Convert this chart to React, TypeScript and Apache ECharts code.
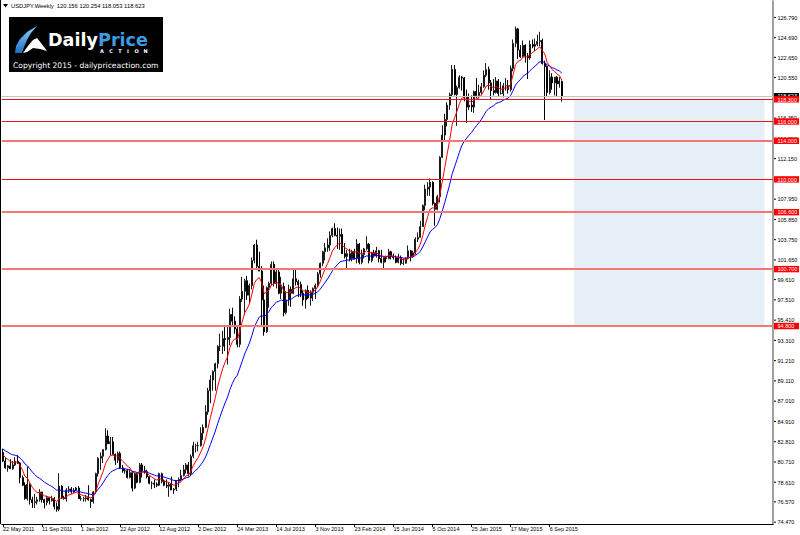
import React, { useEffect, useRef } from "react";
import * as echarts from "echarts";

// ---- Weekly USDJPY candles (week starting 22 May 2011 ... 11 Oct 2015) ----
const opens = [
  81.7, 80.8, 80.1, 80.3, 80.0, 80.4, 80.8, 80.6, 79.1, 78.3,
  76.9, 78.4, 76.8, 76.5, 76.6, 76.8, 77.6, 76.8, 76.5, 77.0,
  76.7, 76.9, 76.1, 75.8, 78.2, 77.0, 76.9, 77.8, 77.9, 77.6,
  77.8, 78.0, 76.9, 76.9, 76.9, 77.0, 76.8, 76.6, 77.6, 79.5,
  81.1, 81.3, 82.0, 83.4, 82.6, 82.8, 81.5, 80.9, 81.6, 80.1,
  79.8, 79.8, 79.1, 79.6, 78.0, 79.5, 78.6, 80.4, 79.8, 79.7,
  79.2, 78.5, 78.5, 78.4, 78.3, 79.5, 78.7, 78.3, 78.2, 78.4,
  77.8, 77.9, 78.7, 78.9, 79.3, 79.9, 80.4, 79.5, 81.3, 82.4,
  82.4, 82.4, 83.7, 84.3, 85.9, 88.1, 89.2, 90.1, 90.9, 92.7,
  92.7, 93.5, 93.4, 93.6, 96.0, 95.3, 94.5, 92.9, 97.6, 98.4,
  99.5, 98.0, 99.0, 101.6, 103.2, 101.0, 100.5, 97.5, 94.2, 98.8,
  99.2, 101.2, 99.2, 100.4, 98.2, 98.9, 96.2, 97.5, 98.6, 98.2,
  99.7, 99.4, 99.1, 98.2, 97.5, 98.5, 97.7, 98.3, 98.7, 99.0,
  100.2, 101.3, 102.5, 102.9, 103.2, 104.2, 104.9, 104.2, 104.1, 104.3,
  102.3, 102.0, 102.3, 101.8, 102.5, 101.8, 103.3, 101.4, 102.2, 102.8,
  103.3, 101.6, 102.4, 102.1, 102.6, 101.8, 101.4, 101.9, 101.8, 102.5,
  102.0, 101.9, 101.4, 101.9, 101.3, 101.3, 101.8, 102.6, 102.0, 102.4,
  103.8, 104.0, 105.1, 107.3, 109.0, 109.2, 109.7, 107.5, 106.9, 108.2,
  112.3, 114.6, 116.2, 117.7, 118.8, 121.4, 118.8, 119.5, 120.6, 120.5,
  118.5, 117.5, 117.7, 117.5, 119.1, 118.7, 119.0, 119.6, 120.8, 121.4,
  120.0, 119.2, 119.0, 120.2, 118.9, 118.9, 119.7, 119.7, 119.3, 121.5,
  124.1, 125.6, 123.4, 122.7, 123.9, 122.8, 122.6, 124.0, 123.8, 124.0,
  124.3, 124.4, 122.0, 121.7, 119.0, 120.6, 120.0, 120.6, 119.9, 120.156,
];
const highs = [
  82.1, 81.2, 80.4, 81.0, 80.8, 81.2, 81.4, 80.7, 79.3, 78.6,
  80.25, 78.5, 77.1, 77.4, 77.1, 77.9, 77.6, 76.9, 77.2, 77.1,
  77.2, 77.1, 76.5, 79.55, 78.3, 77.2, 78.0, 78.2, 78.1, 78.0,
  78.1, 78.2, 77.2, 77.1, 77.3, 78.3, 76.9, 77.7, 79.6, 81.2,
  81.7, 82.0, 84.2, 84.0, 83.3, 83.3, 81.6, 81.8, 81.8, 80.4,
  80.0, 80.0, 79.9, 79.8, 79.6, 79.6, 80.6, 80.6, 80.3, 79.9,
  79.2, 78.7, 78.9, 78.6, 79.6, 79.6, 78.9, 78.9, 78.6, 79.2,
  78.0, 78.8, 79.1, 79.9, 80.4, 80.6, 80.7, 81.5, 82.8, 82.6,
  82.8, 84.3, 84.6, 86.6, 88.4, 89.7, 90.2, 91.0, 92.8, 94.0,
  94.3, 94.8, 94.8, 96.6, 96.7, 95.8, 94.9, 97.9, 99.9, 99.7,
  100.0, 99.2, 101.9, 103.3, 103.75, 102.5, 101.0, 99.0, 98.9, 99.4,
  101.5, 101.5, 100.8, 100.8, 99.9, 99.3, 98.4, 99.1, 98.9, 100.6,
  100.6, 99.6, 99.4, 98.5, 98.6, 99.0, 98.5, 98.8, 99.2, 100.4,
  101.4, 102.6, 103.4, 103.9, 104.6, 105.0, 105.45, 105.0, 104.9, 104.9,
  103.4, 102.7, 102.8, 102.7, 102.8, 103.8, 103.4, 102.7, 102.9, 104.1,
  103.4, 102.5, 102.7, 103.0, 102.7, 102.7, 101.9, 102.1, 102.8, 102.6,
  102.3, 102.1, 102.3, 102.1, 101.8, 101.9, 103.15, 102.7, 102.6, 104.0,
  104.5, 105.7, 107.4, 109.45, 109.7, 110.1, 109.8, 107.6, 108.4, 112.4,
  115.6, 116.8, 118.0, 119.0, 121.85, 121.85, 119.7, 120.8, 120.7, 120.6,
  119.3, 118.9, 118.7, 119.2, 120.5, 119.8, 120.0, 121.3, 122.05, 121.7,
  120.3, 120.4, 120.6, 120.4, 120.1, 120.0, 120.5, 120.3, 121.8, 124.5,
  125.85, 125.7, 123.9, 124.4, 124.0, 123.1, 124.4, 124.5, 124.6, 125.0,
  125.3, 124.6, 122.3, 121.8, 121.3, 121.0, 120.6, 120.7, 120.6, 120.254,
];
const lows = [
  80.7, 80.0, 79.7, 80.0, 79.9, 80.3, 80.5, 78.5, 78.2, 76.8,
  76.7, 76.3, 75.95, 75.95, 76.3, 76.6, 76.5, 75.9, 76.2, 76.3,
  76.6, 75.8, 75.55, 75.6, 76.9, 76.8, 76.6, 77.5, 77.4, 77.5,
  77.7, 76.9, 76.7, 76.6, 76.6, 76.7, 75.95, 76.4, 77.4, 79.2,
  79.9, 80.6, 81.9, 82.6, 81.4, 81.5, 80.4, 80.6, 80.0, 79.6,
  79.5, 79.0, 79.0, 77.65, 77.9, 78.5, 78.5, 79.1, 79.5, 79.0,
  78.4, 77.9, 78.0, 78.1, 78.2, 78.5, 78.2, 78.0, 77.1, 77.8,
  77.4, 77.7, 78.1, 78.7, 79.2, 79.5, 79.2, 79.3, 81.1, 81.7,
  81.8, 82.3, 83.0, 84.2, 85.6, 86.8, 88.1, 88.1, 90.4, 92.2,
  91.9, 92.2, 90.8, 92.8, 94.8, 94.0, 92.6, 92.6, 97.3, 96.0,
  97.5, 97.1, 98.6, 101.3, 100.7, 100.5, 94.9, 93.8, 94.1, 96.7,
  99.0, 98.9, 98.7, 98.1, 97.6, 95.8, 96.0, 96.9, 96.8, 98.1,
  99.0, 97.8, 97.8, 96.9, 96.6, 97.6, 96.9, 97.4, 97.6, 98.8,
  99.8, 101.0, 101.6, 102.5, 102.6, 104.0, 104.1, 102.8, 102.7, 102.3,
  101.8, 100.75, 101.5, 101.5, 101.7, 101.3, 101.2, 101.2, 101.8, 102.7,
  101.3, 101.4, 101.9, 101.9, 101.4, 101.3, 100.8, 101.4, 101.7, 101.7,
  101.7, 101.3, 101.3, 101.1, 101.1, 101.3, 101.7, 101.5, 101.9, 102.2,
  103.5, 104.0, 105.1, 106.8, 108.3, 108.3, 107.3, 105.2, 106.8, 107.6,
  112.2, 113.9, 115.5, 117.2, 118.6, 118.7, 115.55, 119.4, 119.2, 118.1,
  115.85, 117.2, 117.0, 116.9, 118.4, 118.4, 118.7, 119.5, 120.6, 119.3,
  118.3, 118.7, 118.9, 118.6, 118.8, 118.5, 119.2, 118.9, 119.1, 121.2,
  123.7, 122.5, 122.6, 122.7, 122.1, 120.4, 122.4, 123.6, 123.3, 123.8,
  123.8, 121.9, 116.15, 118.6, 118.8, 119.3, 118.7, 118.6, 119.5, 118.053,
];
const closes = [
  80.8, 80.1, 80.3, 80.0, 80.4, 80.8, 80.6, 79.1, 78.3, 76.9,
  78.4, 76.8, 76.5, 76.6, 76.8, 77.6, 76.8, 76.5, 77.0, 76.7,
  76.9, 76.1, 75.8, 78.2, 77.0, 76.9, 77.8, 77.9, 77.6, 77.8,
  78.0, 76.9, 76.9, 76.9, 77.0, 76.8, 76.6, 77.6, 79.5, 81.1,
  81.3, 82.0, 83.4, 82.6, 82.8, 81.5, 80.9, 81.6, 80.1, 79.8,
  79.8, 79.1, 79.6, 78.0, 79.5, 78.6, 80.4, 79.8, 79.7, 79.2,
  78.5, 78.5, 78.4, 78.3, 79.5, 78.7, 78.3, 78.2, 78.4, 77.8,
  77.9, 78.7, 78.9, 79.3, 79.9, 80.4, 79.5, 81.3, 82.4, 82.4,
  82.4, 83.7, 84.3, 85.9, 88.1, 89.2, 90.1, 90.9, 92.7, 92.7,
  93.5, 93.4, 93.6, 96.0, 95.3, 94.5, 92.9, 97.6, 98.4, 99.5,
  98.0, 99.0, 101.6, 103.2, 101.0, 100.5, 97.5, 94.2, 98.8, 99.2,
  101.2, 99.2, 100.4, 98.2, 98.9, 96.2, 97.5, 98.6, 98.2, 99.7,
  99.4, 99.1, 98.2, 97.5, 98.5, 97.7, 98.3, 98.7, 99.0, 100.2,
  101.3, 102.5, 102.9, 103.2, 104.2, 104.9, 104.2, 104.1, 104.3, 102.3,
  102.0, 102.3, 101.8, 102.5, 101.8, 103.3, 101.4, 102.2, 102.8, 103.3,
  101.6, 102.4, 102.1, 102.6, 101.8, 101.4, 101.9, 101.8, 102.5, 102.0,
  101.9, 101.4, 101.9, 101.3, 101.3, 101.8, 102.6, 102.0, 102.4, 103.8,
  104.0, 105.1, 107.3, 109.0, 109.2, 109.7, 107.5, 106.9, 108.2, 112.3,
  114.6, 116.2, 117.7, 118.8, 121.4, 118.8, 119.5, 120.6, 120.5, 118.5,
  117.5, 117.7, 117.5, 119.1, 118.7, 119.0, 119.6, 120.8, 121.4, 120.0,
  119.2, 119.0, 120.2, 118.9, 118.9, 119.7, 119.7, 119.3, 121.5, 124.1,
  125.6, 123.4, 122.7, 123.9, 122.8, 122.6, 124.0, 123.8, 124.0, 124.3,
  124.4, 122.0, 121.7, 119.0, 120.6, 120.0, 120.6, 119.9, 120.2, 118.623,
];
// weekly closes before the first visible bar (Dec 2010 - May 2011), used only to seed the averages
const warmupCloses = [
  83.9, 83.9, 82.9, 81.1, 83.2, 82.7, 82.5, 82.1, 81.6, 83.4, 83.0, 81.7,
  82.4, 81.8, 80.6, 80.6, 82.8, 84.7, 83.1, 81.9, 81.2, 80.6, 80.9, 81.7,
];

const xTickLabels = [
  "22 May 2011", "11 Sep 2011", "1 Jan 2012", "22 Apr 2012", "12 Aug 2012",
  "2 Dec 2012", "24 Mar 2013", "14 Jul 2013", "3 Nov 2013", "23 Feb 2014",
  "15 Jun 2014", "5 Oct 2014", "25 Jan 2015", "17 May 2015", "6 Sep 2015",
];
const xTickEvery = 16;
const totalSlots = 316;

const priceTicks = [
  126.79, 124.69, 122.65, 120.55, 118.45, 116.35, 114.25, 112.15, 110.05,
  107.95, 105.85, 103.75, 101.65, 99.61, 97.51, 95.41, 93.31, 91.21, 89.11,
  87.01, 84.91, 82.81, 80.71, 78.61, 76.57, 74.47,
];
const levelLines = [118.3, 116.0, 114.0, 110.0, 106.6, 100.7, 94.8];
const softLevels = [114.0, 106.6, 100.7, 94.8];
const bidPrice = 118.623;
const zoneFrom = 234;
const zoneTo = 312;
const zoneTop = 118.3;
const zoneBottom = 94.8;
const headerText = "USDJPY.Weekly  120.156 120.254 118.053 118.623";
const fastPeriod = 8;
const slowPeriod = 21;

function ema(period: number): number[] {
  const all = [...warmupCloses, ...closes];
  const k = 2 / (period + 1);
  let e = all[0];
  const out: number[] = [];
  all.forEach((c, i) => {
    if (i > 0) e = c * k + e * (1 - k);
    out.push(+e.toFixed(3));
  });
  return out.slice(warmupCloses.length);
}

const SMALL_FONT = '5.5px "Liberation Sans", Arial, sans-serif';

export default function App() {
  const ref = useRef<HTMLDivElement>(null);
  useEffect(() => {
    if (!ref.current) return;
    const chart = echarts.init(ref.current, undefined, { renderer: "svg" });
    const categories = Array.from({ length: totalSlots }, (_, i) => String(i));
    const candles = opens.map((o, i) => [o, closes[i], lows[i], highs[i]]);
    const showTick = (idx: number) =>
      idx % xTickEvery === 0 && idx / xTickEvery < xTickLabels.length;

    const rightLabel = (fill: string, textFill: string, boxed: boolean) =>
      (params: any, api: any) => {
        const cs = params.coordSys;
        const v = api.value(1);
        const y = api.coord([0, v])[1];
        const x = cs.x + cs.width;
        const children: any[] = [];
        if (boxed) {
          children.push({
            type: "rect",
            shape: { x: x + 1, y: y - 3.2, width: 25, height: 6.4 },
            style: { fill },
          });
        } else {
          children.push({
            type: "line",
            shape: { x1: x + 1, y1: y, x2: x + 3, y2: y },
            style: { stroke: "#000", lineWidth: 1 },
          });
        }
        children.push({
          type: "text",
          x: x + 4.5,
          y: y + 0.3,
          style: {
            text: v.toFixed(3),
            fill: textFill,
            font: SMALL_FONT,
            align: "left",
            verticalAlign: "middle",
          },
        });
        return { type: "group", children };
      };

    const actionLetters = ["A", "C", "T", "I", "O", "N"];
    const actionX = [102, 111, 120, 128, 136.5, 145.5];

    chart.setOption({
      animation: false,
      backgroundColor: "#ffffff",
      grid: { left: 1, right: 27, top: 1, bottom: 11, containLabel: false },
      xAxis: {
        type: "category",
        data: categories,
        boundaryGap: true,
        axisLine: { show: true, lineStyle: { color: "#000", width: 1 } },
        axisTick: {
          show: true,
          alignWithLabel: true,
          interval: (idx: number) => showTick(idx),
          length: 3,
          lineStyle: { color: "#000" },
        },
        axisLabel: {
          show: true,
          interval: (idx: number) => showTick(idx),
          formatter: (_v: string, idx: number) =>
            showTick(idx) ? xTickLabels[idx / xTickEvery] : "",
          align: "left",
          fontSize: 5.5,
          fontFamily: '"Liberation Sans", Arial, sans-serif',
          color: "#000",
          margin: 2,
        },
        splitLine: { show: false },
      },
      yAxis: {
        type: "value",
        position: "right",
        min: 74.28,
        max: 128.49,
        axisLine: { show: true, lineStyle: { color: "#a0a0a0", width: 2 } },
        axisTick: { show: false },
        axisLabel: { show: false },
        splitLine: { show: false },
      },
      series: [
        {
          type: "line",
          z: 1,
          data: [],
          silent: true,
          markArea: {
            silent: true,
            itemStyle: { color: "#e6eff8" },
            data: [[
              { xAxis: String(zoneFrom), yAxis: zoneTop },
              { xAxis: String(zoneTo), yAxis: zoneBottom },
            ]],
          },
        },
        {
          type: "candlestick",
          z: 3,
          data: candles,
          barWidth: 1.5,
          silent: true,
          itemStyle: {
            color: "#8a8a8a",
            color0: "#000000",
            borderColor: "#1a1a1a",
            borderColor0: "#000000",
            borderWidth: 1,
          },
          markLine: {
            silent: true,
            symbol: ["none", "none"],
            label: { show: false },
            data: [
              { yAxis: bidPrice, lineStyle: { color: "#c4c4c4", width: 1, type: "solid" } },
              ...levelLines.map((v) => ({
                yAxis: v,
                lineStyle: softLevels.includes(v)
                  ? { color: "#f27878", width: 2, type: "solid" }
                  : { color: "#e8151b", width: 1, type: "solid" },
              })),
            ],
          },
        },
        {
          type: "line",
          z: 4,
          data: ema(slowPeriod),
          showSymbol: false,
          symbol: "none",
          silent: true,
          lineStyle: { color: "#0000ff", width: 1 },
          itemStyle: { color: "#0000ff" },
        },
        {
          type: "line",
          z: 4,
          data: ema(fastPeriod),
          showSymbol: false,
          symbol: "none",
          silent: true,
          lineStyle: { color: "#ff0000", width: 1 },
          itemStyle: { color: "#ff0000" },
        },
        {
          type: "custom",
          z: 5,
          silent: true,
          clip: false,
          data: priceTicks.map((v) => [0, v]),
          renderItem: rightLabel("#000", "#000", false),
        },
        {
          type: "custom",
          z: 6,
          silent: true,
          clip: false,
          data: [[0, bidPrice]],
          renderItem: rightLabel("#000000", "#ffffff", true),
        },
        {
          type: "custom",
          z: 7,
          silent: true,
          clip: false,
          data: levelLines.map((v) => [0, v]),
          renderItem: rightLabel("#ff0000", "#ffffff", true),
        },
      ],
      graphic: [
        { type: "line", shape: { x1: 0.5, y1: 0, x2: 0.5, y2: 524 }, style: { stroke: "#000", lineWidth: 1 }, z: 10 },
        { type: "polygon", shape: { points: [[3, 4], [8, 4], [5.5, 7.5]] }, style: { fill: "#000" }, z: 10 },
        {
          type: "text", x: 11, y: 6, z: 10,
          style: { text: headerText, fill: "#000", font: '5.8px "Liberation Sans", Arial, sans-serif', verticalAlign: "middle" },
        },
        {
          type: "group", z: 10,
          children: [
            { type: "rect", shape: { x: 9, y: 17, width: 154, height: 55 }, style: { fill: "#000" } },
            {
              type: "polygon",
              shape: { points: [[15, 53], [16, 46], [20, 39], [27, 32], [37, 26], [31, 33], [27, 40], [24, 47], [22, 53]] },
              style: {
                fill: new echarts.graphic.LinearGradient(0, 0, 0, 1, [
                  { offset: 0, color: "#8fd0ff" },
                  { offset: 1, color: "#1a6fc4" },
                ]),
              },
            },
            {
              type: "polygon",
              shape: { points: [[23, 53], [28, 46], [33, 40], [37, 38], [41, 43], [47, 51], [40, 49], [33, 48], [27, 52]] },
              style: { fill: "#ffffff" },
            },
            {
              type: "text", x: 48, y: 40,
              style: {
                text: "{a|Daily}{b|Price}",
                verticalAlign: "middle",
                rich: {
                  a: { fill: "#ffffff", font: 'bold 17.6px "DejaVu Sans", sans-serif' },
                  b: { fill: "#3d9be0", font: 'bold 17.6px "DejaVu Sans", sans-serif' },
                },
              },
            },
            ...actionLetters.map((ch, i) => ({
              type: "text", x: actionX[i], y: 50.5,
              style: { text: ch, fill: "#ffffff", font: 'bold 5px "DejaVu Sans", sans-serif', align: "center", verticalAlign: "middle" },
            })),
            {
              type: "text", x: 13, y: 65.5,
              style: {
                text: "Copyright 2015 - dailypriceaction.com",
                fill: "#ffffff",
                font: '7.6px "DejaVu Sans", sans-serif',
                verticalAlign: "middle",
              },
            },
          ],
        },
      ],
    });
    return () => chart.dispose();
  }, []);

  return (
    <div
      ref={ref}
      style={{ position: "fixed", left: 0, top: 0, width: 800, height: 535, background: "#fff" }}
    />
  );
}
